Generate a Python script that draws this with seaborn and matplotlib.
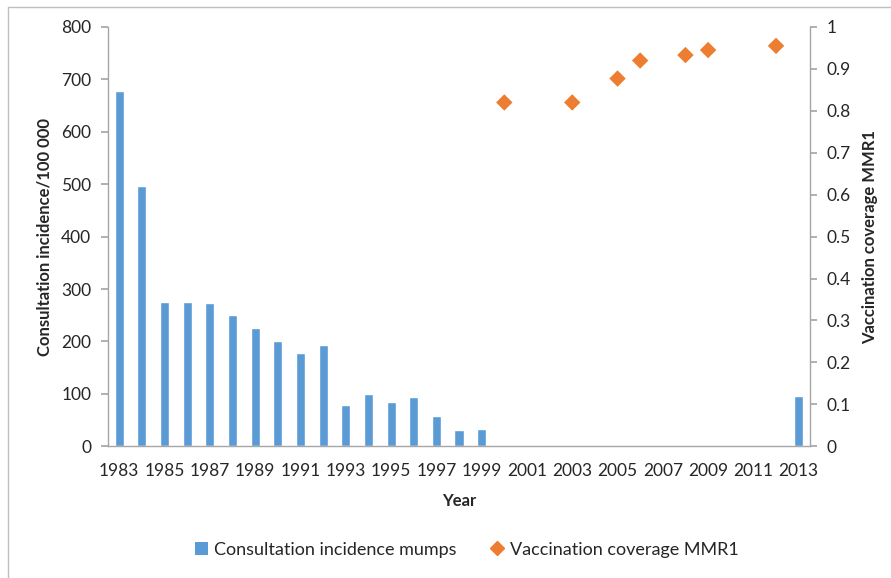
import matplotlib
matplotlib.use("Agg")
import matplotlib.pyplot as plt
import seaborn as sns
import numpy as np
import pandas as pd
from matplotlib.lines import Line2D
from matplotlib.patches import Patch

years = list(range(1983, 2014))
incidence = [678, 497, 276, 275, 273, 250, 225, 200, 177, 194,
             79, 100, 85, 94, 58, 30, 33,
             0, 0, 0, 0, 0, 0, 0, 0, 0, 0, 0, 0, 0,
             95]
cov_years = [2000, 2003, 2005, 2006, 2008, 2009, 2012]
coverage = [0.82, 0.82, 0.877, 0.92, 0.933, 0.945, 0.955]
label_years = list(range(1983, 2014, 2))

BLUE = "#5B9BD5"
ORANGE = "#ED7D31"
GRID = "#A6A6A6"

sns.set_theme(style="white")
plt.rcParams['font.family'] = ['Lato', 'DejaVu Sans']

fig = plt.figure(figsize=(8.91, 5.78), dpi=100)
ax = fig.add_axes([0.1212, 0.228, 0.7879, 0.7253])

df = pd.DataFrame({"year": years, "incidence": incidence})
sns.barplot(data=df, x="year", y="incidence", native_scale=True,
            color=BLUE, saturation=1, width=0.4, ax=ax)

ax2 = ax.twinx()
cdf = pd.DataFrame({"year": cov_years, "coverage": coverage})
sns.scatterplot(data=cdf, x="year", y="coverage", marker="D", s=70,
                color=ORANGE, edgecolor="none", ax=ax2)

ax.set_xlim(1982.5, 2013.5)
ax.set_ylim(0, 800)
ax2.set_ylim(0, 1)
ax.set_yticks(range(0, 801, 100))
ax2.set_yticks(np.round(np.arange(0, 1.01, 0.1), 1))
ax2.set_yticklabels(["0", "0.1", "0.2", "0.3", "0.4", "0.5", "0.6",
                     "0.7", "0.8", "0.9", "1"])

ax.set_xticks(label_years)
ax.set_xticklabels([str(y) for y in label_years])
ax.set_xticks(np.arange(1982.5, 2014, 1), minor=True)
ax.tick_params(axis="x", which="major", length=0, labelsize=12.5, pad=12)
ax.tick_params(axis="x", which="minor", length=5, color=GRID, direction="out")
ax.tick_params(axis="y", length=5, color=GRID, direction="out", labelsize=12.5, pad=7)
ax2.tick_params(axis="y", length=5, color=GRID, direction="out", labelsize=12.5, pad=7)

for a in (ax, ax2):
    for s in a.spines.values():
        s.set_visible(False)
ax.spines["left"].set_visible(True)
ax.spines["bottom"].set_visible(True)
ax2.spines["right"].set_visible(True)
for a, side in ((ax, "left"), (ax, "bottom"), (ax2, "right")):
    a.spines[side].set_color(GRID)
    a.spines[side].set_linewidth(1)

ax.set_xlabel("Year", fontsize=12, fontweight="bold", labelpad=10)
ax.set_ylabel("Consultation incidence/100 000", fontsize=12, fontweight="bold", labelpad=6)
ax2.set_ylabel("Vaccination coverage MMR1", fontsize=12, fontweight="bold", labelpad=8)
if ax2.get_legend():
    ax2.get_legend().remove()

handles = [Patch(facecolor=BLUE, edgecolor="none", label="Consultation incidence mumps"),
           Line2D([], [], marker="D", color=ORANGE, linestyle="none", markersize=7,
                  label="Vaccination coverage MMR1")]
fig.legend(handles=handles, loc="center", bbox_to_anchor=(0.524, 0.049), ncol=2,
           frameon=False, fontsize=13, handlelength=0.7, handletextpad=0.35,
           columnspacing=1.9)

# frame lines like the exported chart box
fig.add_artist(Line2D([0.009, 1.0], [0.988, 0.988], color="#BFBFBF", lw=1, transform=fig.transFigure))
fig.add_artist(Line2D([0.009, 0.009], [0.0, 0.988], color="#BFBFBF", lw=1, transform=fig.transFigure))

fig.savefig("out.png", dpi=100)
